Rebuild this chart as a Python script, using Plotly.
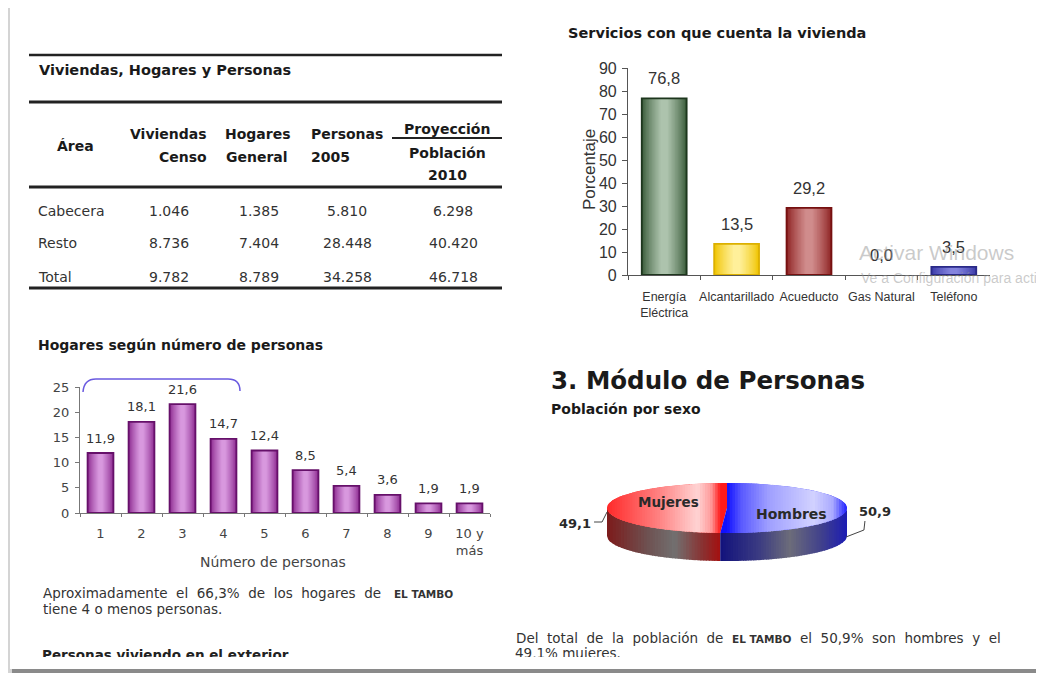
import numpy as np
import plotly.graph_objects as go

W, H = 1044, 677
OX, OY = 8, 8              # the page body puts the figure 8px in from the corner
FW, FH = W - OX, H - OY

# ---- data ----
areas = ["Cabecera", "Resto", "Total"]
viviendas_censo = ["1.046", "8.736", "9.782"]
hogares_general = ["1.385", "7.404", "8.789"]
personas_2005 = ["5.810", "28.448", "34.258"]
proyeccion_2010 = ["6.298", "40.420", "46.718"]

servicios = ["Energía<br>Eléctrica", "Alcantarillado", "Acueducto", "Gas Natural", "Teléfono"]
servicios_pct = [76.8, 13.5, 29.2, 0.0, 3.5]

num_personas = ["1", "2", "3", "4", "5", "6", "7", "8", "9", "10 y<br>más"]
hogares_pct = [11.9, 18.1, 21.6, 14.7, 12.4, 8.5, 5.4, 3.6, 1.9, 1.9]

sexo = ["Mujeres", "Hombres"]
sexo_pct = [49.1, 50.9]

# ---- colours ----
serv_outline = ["#1d361d", "#dcb000", "#761010", "rgba(0,0,0,0)", "#2a2a88"]
serv_edge = ["#3a5c3a", "#f0c400", "#8e2222", "#777777", "#3a3aa8"]
serv_center = ["#adc3ad", "#fff09a", "#d08c8c", "#aaaaaa", "#8484de"]
hog_outline, hog_edge, hog_center = "#66106a", "#8c2a90", "#d898de"

SANS = "DejaVu Sans"
ARIAL = "Liberation Sans"


def fmt(v):
    return f"{v:.1f}".replace(".", ",")


def rgb(h):
    h = h.lstrip("#")
    return [int(h[i:i + 2], 16) for i in (0, 2, 4)]


def mix(c1, c2, t):
    a, b = rgb(c1), rgb(c2)
    return "rgb({},{},{})".format(*[round(a[i] + (b[i] - a[i]) * t) for i in range(3)])


def ramp(stops, t):
    for (t0, c0), (t1, c1) in zip(stops[:-1], stops[1:]):
        if t <= t1:
            return mix(c0, c1, (t - t0) / (t1 - t0) if t1 > t0 else 0)
    return mix(stops[-1][1], stops[-1][1], 0)


def px(x):
    return (x - OX) / FW


def py(y):
    return 1 - (y - OY) / FH


fig = go.Figure()
ann = []


def text(x, y, s, size=13, color="#222", bold=False, xanchor="left",
         yanchor="middle", family=SANS, angle=0):
    ann.append(dict(x=px(x), y=py(y), xref="paper", yref="paper", text=s,
                    showarrow=False, xanchor=xanchor, yanchor=yanchor,
                    textangle=angle, borderpad=0,
                    font=dict(family=family, size=size, color=color,
                              weight=700 if bold else 400)))


def gradient_bars(cats, vals, outline, edge, center, width, xa, ya, n=14):
    # overlaid bars of shrinking width give the cylinder-like shading
    for k in range(n):
        t = (k / (n - 1)) ** 0.8
        w = width * (1 - 0.9 * k / n)
        cols = [mix(e, c, t) for e, c in zip(edge, center)]
        fig.add_trace(go.Bar(x=cats, y=vals, width=w,
                             marker=dict(color=cols, line=dict(width=0)),
                             xaxis=xa, yaxis=ya, hoverinfo="skip",
                             showlegend=False))
    fig.add_trace(go.Bar(x=cats, y=vals, width=width,
                         marker=dict(color="rgba(0,0,0,0)",
                                     line=dict(color=outline, width=1.8)),
                         xaxis=xa, yaxis=ya, hoverinfo="skip",
                         showlegend=False))


# ---- services chart ----
gradient_bars(servicios, servicios_pct, serv_outline, serv_edge, serv_center,
              0.62, "x", "y")
for i, v in enumerate(servicios_pct):
    ann.append(dict(x=i, y=v, xref="x", yref="y", yshift=20, text=fmt(v),
                    showarrow=False, font=dict(family=ARIAL, size=16.5, color="#333")))

# ---- households chart ----
n_cat = len(num_personas)
gradient_bars(num_personas, hogares_pct, [hog_outline] * n_cat,
              [hog_edge] * n_cat, [hog_center] * n_cat, 0.63, "x2", "y2")
for i, v in enumerate(hogares_pct):
    ann.append(dict(x=i, y=v, xref="x2", yref="y2", yshift=15, text=fmt(v),
                    showarrow=False, font=dict(family=SANS, size=13, color="#333")))

# ---- 3D-looking pie (canvas axis in reference pixel units) ----
cx, cy, rx, ry, depth = 727, 508, 120, 25, 28
theta_end = 90 - 360 * sexo_pct[1] / 100          # Hombres clockwise from top
x_split = cx + rx * np.cos(np.radians(theta_end))


def half(x):
    return ry * np.sqrt(np.clip(1 - ((x - cx) / rx) ** 2, 0, 1))


def add_poly(xs, ys, color):
    fig.add_trace(go.Scatter(x=xs, y=ys, mode="lines", fill="toself",
                             fillcolor=color, line=dict(width=0),
                             xaxis="x3", yaxis="y3", hoverinfo="skip",
                             showlegend=False))


def strips(x0, x1, top_fn, bot_fn, stops, n=45):
    xs = np.linspace(x0, x1, n + 1)
    for i in range(n):
        xa, xb = xs[i], min(xs[i + 1] + 0.8, x1)
        xx = np.linspace(xa, xb, 4)
        add_poly(np.concatenate([xx, xx[::-1]]),
                 np.concatenate([top_fn(xx), bot_fn(xx)[::-1]]),
                 ramp(stops, (i + 0.5) / n))


side_m = [(0, "#7d1a1a"), (0.35, "#6e5050"), (0.6, "#727070"), (0.85, "#8a3030"), (1, "#a41010")]
side_h = [(0, "#12127c"), (0.3, "#3a3a82"), (0.55, "#6c6c7a"), (0.8, "#40408c"), (1, "#1c1cb4")]
top_m = [(0, "#ff2a2a"), (0.45, "#ff8080"), (0.8, "#ffd4d4"), (0.92, "#ff9a9a"), (1, "#ff1a1a")]
top_h = [(0, "#1010ff"), (0.12, "#5a5aff"), (0.35, "#a0a0ff"), (0.72, "#d2d2ff"), (0.88, "#aaaaff"), (1, "#2020ff")]

strips(cx - rx, x_split, lambda x: cy + half(x), lambda x: cy + half(x) + depth, side_m, 40)
strips(x_split, cx + rx, lambda x: cy + half(x), lambda x: cy + half(x) + depth, side_h, 50)

# base slices of the top face
th_m = np.radians(np.linspace(90, 90 + 360 * sexo_pct[0] / 100, 80))
th_h = np.radians(np.linspace(theta_end, 90, 80))
for th, col in ((th_m, "#ff1a1a"), (th_h, "#1010ff")):
    add_poly(np.concatenate([[cx], cx + rx * np.cos(th), [cx]]),
             np.concatenate([[cy], cy - ry * np.sin(th), [cy]]), col)
strips(cx - rx, x_split, lambda x: cy - half(x), lambda x: cy + half(x), top_m, 45)
strips(cx, cx + rx, lambda x: cy - half(x), lambda x: cy + half(x), top_h, 45)

# slice names and values
mid_m = np.radians(90 + 180 * sexo_pct[0] / 100)
mid_h = np.radians(90 - 180 * sexo_pct[1] / 100)
text(cx + 0.5 * rx * np.cos(mid_m) + 1, cy - 6, sexo[0], 13.5, "#2a2a2a", True, "center")
text(cx + 0.5 * rx * np.cos(mid_h) + 5, cy + 6, sexo[1], 14, "#2a2a2a", True, "center")
ex_m = cx + rx * np.cos(mid_m)
ex_h = cx + rx * np.cos(mid_h)
fig.add_trace(go.Scatter(x=[ex_m, ex_m - 5, ex_m - 13], y=[cy + 4, cy + 14, cy + 14],
                         mode="lines", line=dict(color="#444", width=1),
                         xaxis="x3", yaxis="y3", hoverinfo="skip", showlegend=False))
fig.add_trace(go.Scatter(x=[ex_h - 1, ex_h + 17, ex_h + 18], y=[cy + 29, cy + 22, cy + 13],
                         mode="lines", line=dict(color="#444", width=1),
                         xaxis="x3", yaxis="y3", hoverinfo="skip", showlegend=False))
text(ex_m - 15, cy + 15, fmt(sexo_pct[0]), 13, "#2a2a2a", True, "right")
text(ex_h + 11, cy + 4, fmt(sexo_pct[1]), 13, "#2a2a2a", True, "left")

# clipped lines at the bottom edge of the page
fig.add_trace(go.Scatter(
    x=[42, 515], y=[657, 655], mode="text",
    text=["<b>Personas viviendo en el exterior</b>", f"{fmt(sexo_pct[0])}% mujeres."],
    textposition="middle right", cliponaxis=True,
    textfont=dict(family=SANS, size=13.5, color=["#222", "#333"]),
    xaxis="x3", yaxis="y3", hoverinfo="skip", showlegend=False))

# ---- table ----
text(38, 70, "Viviendas, Hogares y Personas", 14.5, "#1a1a1a", True)
text(75, 146, "Área", 14, "#1a1a1a", True, "center")
text(208, 134, "Viviendas", 14, "#1a1a1a", True, "right")
text(208, 157, "Censo", 14, "#1a1a1a", True, "right")
text(258, 134, "Hogares", 14, "#1a1a1a", True, "center")
text(257, 157, "General", 14, "#1a1a1a", True, "center")
text(310, 134, "Personas", 14, "#1a1a1a", True)
text(310, 157, "2005", 14, "#1a1a1a", True)
text(447, 129, "Proyección", 14, "#1a1a1a", True, "center")
text(447, 153, "Población", 14, "#1a1a1a", True, "center")
text(447, 175, "2010", 14, "#1a1a1a", True, "center")
row_y = [211, 243, 277]
col_x = [169, 259, 347, 453]
for i, area in enumerate(areas):
    text(37, row_y[i], area, 14, "#333")
    for xc, col in zip(col_x, [viviendas_censo, hogares_general, personas_2005, proyeccion_2010]):
        text(xc, row_y[i], col[i], 14, "#333", False, "center")

shapes = []


def hline(x0, x1, y, w):
    shapes.append(dict(type="line", xref="paper", yref="paper", x0=px(x0), x1=px(x1),
                       y0=py(y), y1=py(y), line=dict(color="#222", width=w)))


hline(29, 502, 55, 2.5)
hline(29, 502, 102, 3)
hline(392, 502, 138, 2)
hline(29, 502, 187, 3)
hline(29, 502, 288, 3)

# ---- headings and paragraphs ----
text(567, 33, "Servicios con que cuenta la vivienda", 14.5, "#1a1a1a", True)
text(589, 170, "Porcentaje", 17, "#333", False, "center", family=ARIAL, angle=-90)
text(37, 345, "Hogares según número de personas", 14, "#1a1a1a", True)
text(273, 562, "Número de personas", 14, "#444", False, "center")
text(550, 380, "3. Módulo de Personas", 24.5, "#1a1a1a", True)
text(550, 409, "Población por sexo", 14, "#1a1a1a", True)
pct4 = fmt(sum(hogares_pct[:4]))
text(42, 593, f"Aproximadamente  el  {pct4}%  de  los  hogares  de   "
     "<b><span style='font-size:10.5px'>EL TAMBO</span></b>", 13.5, "#333")
text(42, 609, "tiene 4 o menos personas.", 13.5, "#333")
text(515, 638, "Del  total  de  la  población  de  <b><span style='font-size:10.5px'>EL TAMBO</span></b>"
     f"  el  {fmt(sexo_pct[1])}%  son  hombres  y  el", 13.5, "#333")

# watermark
text(858, 252, "Activar Windows", 21, "rgba(150,150,150,0.5)", family=ARIAL)
text(860, 278, "Ve a Configuración para activar Windows", 14, "rgba(150,150,150,0.5)", family=ARIAL)

# bracket over categories 1-4
shapes.append(dict(type="path", xref="paper", yref="paper",
                   path=f"M {px(83)},{py(392)} Q {px(84)},{py(379)} {px(96)},{py(379)} "
                        f"L {px(228)},{py(379)} Q {px(240)},{py(379)} {px(240)},{py(391)}",
                   line=dict(color="#6a5ae0", width=1.5)))

# page frame
shapes = [
    dict(type="rect", xref="paper", yref="paper", x0=px(8), x1=px(1060), y0=py(673), y1=py(4),
         fillcolor="#d4d4d4", line=dict(width=0), layer="below"),
    dict(type="rect", xref="paper", yref="paper", x0=px(12), x1=px(1060), y0=py(673), y1=py(8),
         fillcolor="#8a8a8a", line=dict(width=0), layer="below"),
    dict(type="rect", xref="paper", yref="paper", x0=px(10), x1=px(1060), y0=py(669), y1=py(6),
         fillcolor="white", line=dict(width=0), layer="below"),
] + shapes

axis_common = dict(showgrid=False, zeroline=False, fixedrange=True, showline=True,
                   automargin=False, tickangle=0)

fig.update_layout(
    width=FW, height=FH, margin=dict(l=0, r=0, t=0, b=0, pad=0, autoexpand=False),
    paper_bgcolor="#ffffff", plot_bgcolor="rgba(0,0,0,0)",
    barmode="overlay", showlegend=False,
    annotations=ann, shapes=shapes,
    xaxis=dict(axis_common, domain=[px(628), px(990)], anchor="y", type="category",
               range=[-0.5, 4.5], linecolor="#555", linewidth=1.2, ticks="outside",
               tickson="boundaries", ticklen=4, tickcolor="#555", ticklabelstandoff=10,
               tickfont=dict(family=ARIAL, size=12.5, color="#333")),
    yaxis=dict(axis_common, domain=[py(275), py(68)], anchor="x", range=[0, 90], dtick=10,
               linecolor="#555", linewidth=1.2, ticks="outside", ticklen=5, tickcolor="#555",
               ticklabelstandoff=2, tickfont=dict(family=ARIAL, size=16, color="#333")),
    xaxis2=dict(axis_common, domain=[px(80), px(490)], anchor="y2", type="category",
                range=[-0.5, 9.5], linecolor="#777", linewidth=1.2, ticks="outside",
                tickson="boundaries", ticklen=3, tickcolor="#777", ticklabelstandoff=8,
                tickfont=dict(family=SANS, size=13, color="#444")),
    yaxis2=dict(axis_common, domain=[py(513), py(387)], anchor="x2", range=[0, 25], dtick=5,
                linecolor="#777", linewidth=1.2, ticks="outside", ticklen=4, tickcolor="#777",
                ticklabelstandoff=3, tickfont=dict(family=SANS, size=13, color="#444")),
    xaxis3=dict(domain=[0, 1], anchor="y3", range=[OX, W], visible=False, fixedrange=True,
                automargin=False),
    yaxis3=dict(domain=[py(657), 1], anchor="x3", range=[657, OY], visible=False,
                fixedrange=True, automargin=False),
)

fig.write_html("out.html")
